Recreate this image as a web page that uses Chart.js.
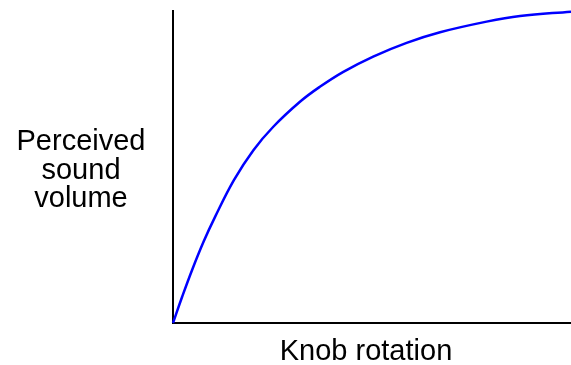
<!DOCTYPE html>
<html>
<head>
<meta charset="utf-8">
<script src="https://cdn.jsdelivr.net/npm/chart.js@4/dist/chart.umd.min.js"></script>
<style>
  html, body { margin: 0; padding: 0; background: #fff; }
  #wrap { width: 571px; height: 365px; }
</style>
</head>
<body>
<div id="wrap"><canvas id="volumeChart" width="571" height="365"></canvas></div>
<script>
// knob rotation (% of full travel) vs perceived loudness (% of max)
const rotation = [0, 2.3, 4.8, 7.7, 10.6, 15.3, 20.2, 25.2, 31.9, 36.9, 42.8, 50.3, 58.7, 67.1, 78.8, 87.2, 100];
const loudness = [0, 8.4, 17.0, 26.1, 34.1, 45.8, 55.4, 62.9, 70.9, 75.7, 80.5, 85.4, 89.8, 93.2, 96.6, 98.4, 99.8];

const yTitleLines = ['Perceived', 'sound', 'volume'];
const xTitle = 'Knob rotation';

const FONT = '29px "Liberation Sans", Arial, sans-serif';

// axis captions are plain horizontal text, drawn after the chart
const captions = {
  id: 'captions',
  afterDraw(chart) {
    const ctx = chart.ctx;
    const area = chart.chartArea;
    ctx.save();
    ctx.fillStyle = '#000';
    ctx.font = FONT;
    ctx.textAlign = 'center';
    ctx.textBaseline = 'alphabetic';
    yTitleLines.forEach((line, i) => {
      ctx.fillText(line, 81, 150 + i * 28.5);
    });
    ctx.fillText(xTitle, (area.left + area.right) / 2 - 6, 360);
    ctx.restore();
  },
};

new Chart(document.getElementById('volumeChart'), {
  type: 'line',
  data: {
    datasets: [{
      data: rotation.map((x, i) => ({ x, y: loudness[i] })),
      borderColor: '#0000ff',
      borderWidth: 2.5,
      pointRadius: 0,
      fill: false,
      tension: 0.4,
      clip: false,
    }],
  },
  options: {
    responsive: false,
    animation: false,
    events: [],
    layout: { padding: { left: 165, right: 0, top: 11, bottom: 34 } },
    plugins: {
      legend: { display: false },
      tooltip: { enabled: false },
    },
    scales: {
      x: {
        type: 'linear',
        min: 0,
        max: 100,
        ticks: { display: false },
        grid: { display: false },
        border: { display: true, color: '#000', width: 2 },
      },
      y: {
        type: 'linear',
        min: 0,
        max: 100,
        ticks: { display: false },
        grid: { display: false },
        border: { display: true, color: '#000', width: 2 },
      },
    },
  },
  plugins: [captions],
});
</script>
</body>
</html>
